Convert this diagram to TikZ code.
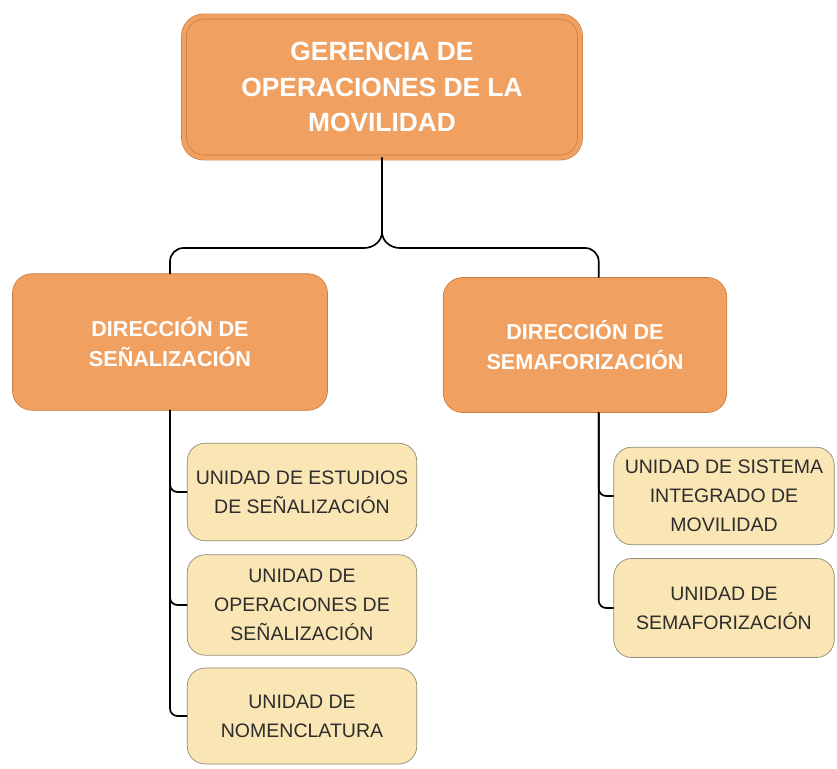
\documentclass[tikz,border=0pt]{standalone}
\usepackage{fontspec}
\setmainfont{Liberation Sans}
\usetikzlibrary{positioning}
\definecolor{naranja}{RGB}{240,160,96}
\definecolor{naranjaborde}{RGB}{200,124,64}
\definecolor{crema}{RGB}{250,229,180}
\definecolor{cremaborde}{RGB}{150,142,124}
\definecolor{textogris}{RGB}{45,45,45}

\begin{document}
\begin{tikzpicture}[x=0.3333mm, y=-0.3333mm,
    caja/.style={rounded corners=6.5mm, align=center, inner sep=2pt},
    gerencia/.style={caja, fill=naranja, draw=naranjaborde, line width=0.6pt,
      double=naranja, double distance=1.5mm, text=white,
      font=\fontsize{25}{34}\selectfont\bfseries},
    direccion/.style={caja, fill=naranja, draw=naranjaborde, line width=0.6pt,
      text=white, font=\fontsize{20.5}{28}\selectfont\bfseries},
    unidad/.style={caja, rounded corners=6mm, fill=crema, draw=cremaborde,
      line width=0.7pt, text=textogris, font=\fontsize{18.5}{27.5}\selectfont},
    enlace/.style={line width=1.6pt, line cap=round},
    rama/.style={enlace, rounded corners=2.5mm}]
  \useasboundingbox (0,0) rectangle (837,769);

  % nivel superior
  \node[gerencia, minimum width=13.2cm, minimum height=4.7cm] (ger) at (382,87)
    {GERENCIA DE\\OPERACIONES DE LA\\MOVILIDAD};

  % direcciones
  \node[direccion, minimum width=10.5cm, minimum height=4.55cm] (senal) at (170,342)
    {DIRECCIÓN DE\\SEÑALIZACIÓN};
  \node[direccion, minimum width=9.45cm, minimum height=4.5cm] (sema) at (585,345)
    {DIRECCIÓN DE\\SEMAFORIZACIÓN};

  % unidades
  \node[unidad, minimum width=7.65cm, minimum height=3.25cm] (estudios) at (302,492)
    {UNIDAD DE ESTUDIOS\\DE SEÑALIZACIÓN};
  \node[unidad, minimum width=7.65cm, minimum height=3.35cm] (operaciones) at (302,605)
    {UNIDAD DE\\OPERACIONES DE\\SEÑALIZACIÓN};
  \node[unidad, minimum width=7.65cm, minimum height=3.2cm] (nomenclatura) at (302,716)
    {UNIDAD DE\\NOMENCLATURA};
  \node[unidad, minimum width=7.35cm, minimum height=3.25cm] (sistema) at (724,496)
    {UNIDAD DE SISTEMA\\INTEGRADO DE\\MOVILIDAD};
  \node[unidad, minimum width=7.35cm, minimum height=3.3cm] (semaf) at (724,608)
    {UNIDAD DE\\SEMAFORIZACIÓN};

  % conectores
  \coordinate (bifurca) at (382,232);
  \coordinate (bifurcaI) at (364,248);
  \coordinate (bifurcaD) at (400,248);
  \draw[enlace] (ger.south) -- (bifurca);
  \draw[enlace] (bifurca) to[out=-90, in=0] (bifurcaI);
  \draw[enlace] (bifurca) to[out=-90, in=180] (bifurcaD);
  \draw[enlace, rounded corners=4.5mm] (bifurcaI) -| (senal.north);
  \draw[enlace, rounded corners=4.5mm] (bifurcaD) -| ([xshift=13pt]sema.north);
  \foreach \u in {estudios,operaciones,nomenclatura}
    \draw[rama] (senal.south) |- (\u.west);
  \foreach \u in {sistema,semaf}
    \draw[rama] ([xshift=13pt]sema.south) |- (\u.west);
\end{tikzpicture}
\end{document}
